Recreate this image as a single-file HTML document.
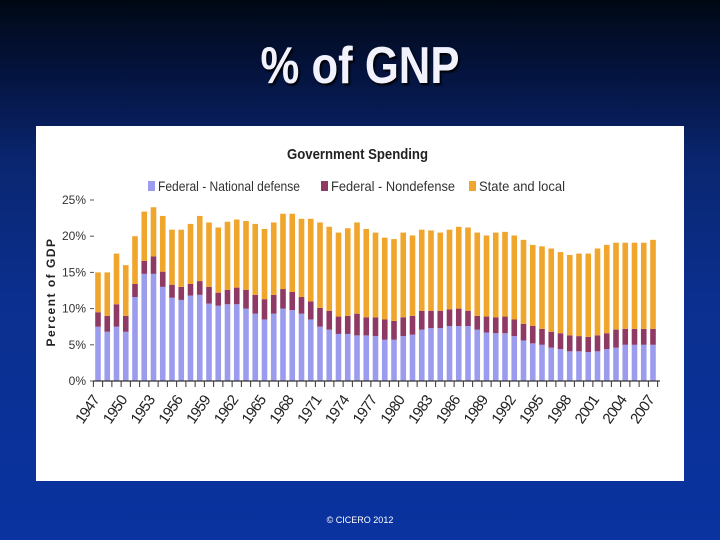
<!DOCTYPE html>
<html><head><meta charset="utf-8">
<style>
html,body{margin:0;padding:0;}
body{width:720px;height:540px;overflow:hidden;position:relative;font-family:"Liberation Sans",sans-serif;
background:linear-gradient(to bottom,#000814 0%,#04123a 12%,#0a2670 30%,#0b2f8f 55%,#0a33a0 100%);}
#title{position:absolute;left:0;width:720px;top:36px;text-align:center;color:#f2f2ff;font-weight:bold;font-size:52px;text-shadow:2px 2px 2px #000;transform:scaleX(0.84);}
#box{position:absolute;left:36px;top:126px;width:648px;height:355px;background:#fff;}
#footer{position:absolute;left:0;width:720px;top:515px;text-align:center;color:#fff;font-size:9px;}
</style></head><body>
<div id="title">% of GNP</div>
<div id="box">
<svg id="chart" width="648" height="355"></svg>
</div>
<div id="footer">© CICERO 2012</div>
<script>
const years = [];
for (let y = 1947; y <= 2007; y++) years.push(y);
const defense = [7.5,6.8,7.5,6.8,11.6,14.8,14.8,13,11.5,11.2,11.8,11.9,10.7,10.4,10.6,10.6,10,9.3,8.5,9.3,10,9.8,9.3,8.5,7.5,7.1,6.5,6.5,6.3,6.3,6.2,5.7,5.7,6.2,6.4,7.1,7.3,7.3,7.6,7.6,7.6,7.1,6.7,6.6,6.6,6.2,5.6,5.2,5.0,4.6,4.4,4.1,4.1,4.0,4.1,4.4,4.6,5.0,5.0,5.0,5.0];
const nondefense = [2.0,2.2,3.1,2.2,1.8,1.8,2.4,2.1,1.8,1.8,1.6,1.9,2.3,1.8,2.0,2.3,2.6,2.6,2.8,2.6,2.7,2.5,2.3,2.5,2.6,2.6,2.4,2.5,3.0,2.5,2.6,2.8,2.6,2.6,2.6,2.6,2.4,2.4,2.3,2.4,2.1,1.9,2.2,2.2,2.3,2.3,2.3,2.4,2.2,2.2,2.2,2.2,2.1,2.1,2.2,2.2,2.5,2.2,2.2,2.2,2.2];
const totals = [15,15,17.6,16,20,23.4,24,22.8,20.9,20.9,21.7,22.8,21.9,21.2,22,22.3,22.1,21.7,21,21.9,23.1,23.1,22.4,22.4,21.9,21.3,20.5,21.1,21.9,21,20.5,19.8,19.6,20.5,20.1,20.9,20.8,20.5,20.9,21.3,21.2,20.5,20.1,20.5,20.6,20.1,19.5,18.8,18.6,18.3,17.8,17.4,17.6,17.6,18.3,18.8,19.1,19.1,19.1,19.1,19.5];
const yTicks = [0,5,10,15,20,25];
const seriesNames = ["Federal - National defense","Federal - Nondefense","State and local"];
const colors = ["#9c9cee","#8e3a64","#f0a52c"];

const NS="http://www.w3.org/2000/svg";
const svg=document.getElementById('chart');
const OX=36, OY=126;
const x0=98-OX, step=(653-98)/60, bw=5.6;
const yBase=381-OY, pxPer=(381-200)/25;
function xs(i){return x0+i*step;}
function ys(v){return yBase-v*pxPer;}
function mk(tag,attrs){const e=document.createElementNS(NS,tag);for(const k in attrs)e.setAttribute(k,attrs[k]);svg.appendChild(e);return e;}

let t=mk('text',{x:287-OX,y:159-OY,'font-size':15,'font-weight':'bold','font-family':'Liberation Sans, sans-serif',fill:'#222',textLength:141,lengthAdjust:'spacingAndGlyphs'});
t.textContent='Government Spending';



const legX=[148,321,469];
const legW=[142,124,86];
seriesNames.forEach((n,i)=>{
  const g=document.createElementNS(NS,'g');svg.appendChild(g);
  
  
  const r=document.createElementNS(NS,'rect');
  r.setAttribute('x',legX[i]-OX);r.setAttribute('y',181-OY);r.setAttribute('width',7);r.setAttribute('height',10);r.setAttribute('fill',colors[i]);g.appendChild(r);
  const tx=document.createElementNS(NS,'text');
  tx.setAttribute('x',legX[i]-OX+10);tx.setAttribute('y',191-OY);tx.setAttribute('font-size',14);tx.setAttribute('fill','#333');
  tx.setAttribute('textLength',legW[i]);tx.setAttribute('lengthAdjust','spacingAndGlyphs');
  tx.textContent=n;g.appendChild(tx);
});

let at=mk('text',{transform:`translate(${55-OX},${292-OY}) rotate(-90)`,'text-anchor':'middle','font-size':12,'font-weight':'bold',fill:'#222','letter-spacing':'1.5'});
at.textContent='Percent of GDP';



yTicks.forEach(v=>{
  const tl=mk('text',{x:86-OX,y:ys(v)+4,'text-anchor':'end','font-size':12,fill:'#333'});
  tl.textContent=v+'%';
  
  
  const tm=mk('line',{x1:90-OX,x2:94-OX,y1:ys(v),y2:ys(v),stroke:'#555','stroke-width':1});
  
  
});

years.forEach((yr,i)=>{
  const d=defense[i], n=nondefense[i], s=totals[i]-d-n;
  const segs=[[0,d],[d,d+n],[d+n,d+n+s]];
  segs.forEach((sg,k)=>{
    const r=mk('rect',{x:xs(i)-bw/2,y:ys(sg[1]),width:bw,height:Math.max(0,ys(sg[0])-ys(sg[1])),fill:colors[k]});
    
    
  });
});

const ax=mk('line',{x1:93-OX,x2:660-OX,y1:yBase,y2:yBase,stroke:'#333','stroke-width':1.2});


for(let i=0;i<=years.length;i++){
  const tx=xs(i)-step/2;
  const tk=mk('line',{x1:tx,x2:tx,y1:yBase,y2:yBase+6,stroke:'#333','stroke-width':1});
  
  
}
years.forEach((yr,i)=>{
  if((yr-1947)%3!==0)return;
  const lx=xs(i)+2, ly=yBase+19;
  const tl=mk('text',{x:lx,y:ly,'text-anchor':'end','font-size':15,fill:'#222',transform:`rotate(-55 ${lx} ${ly})`,'letter-spacing':'-0.8'});
  tl.textContent=yr;
  
  
});
</script>
</body></html>
